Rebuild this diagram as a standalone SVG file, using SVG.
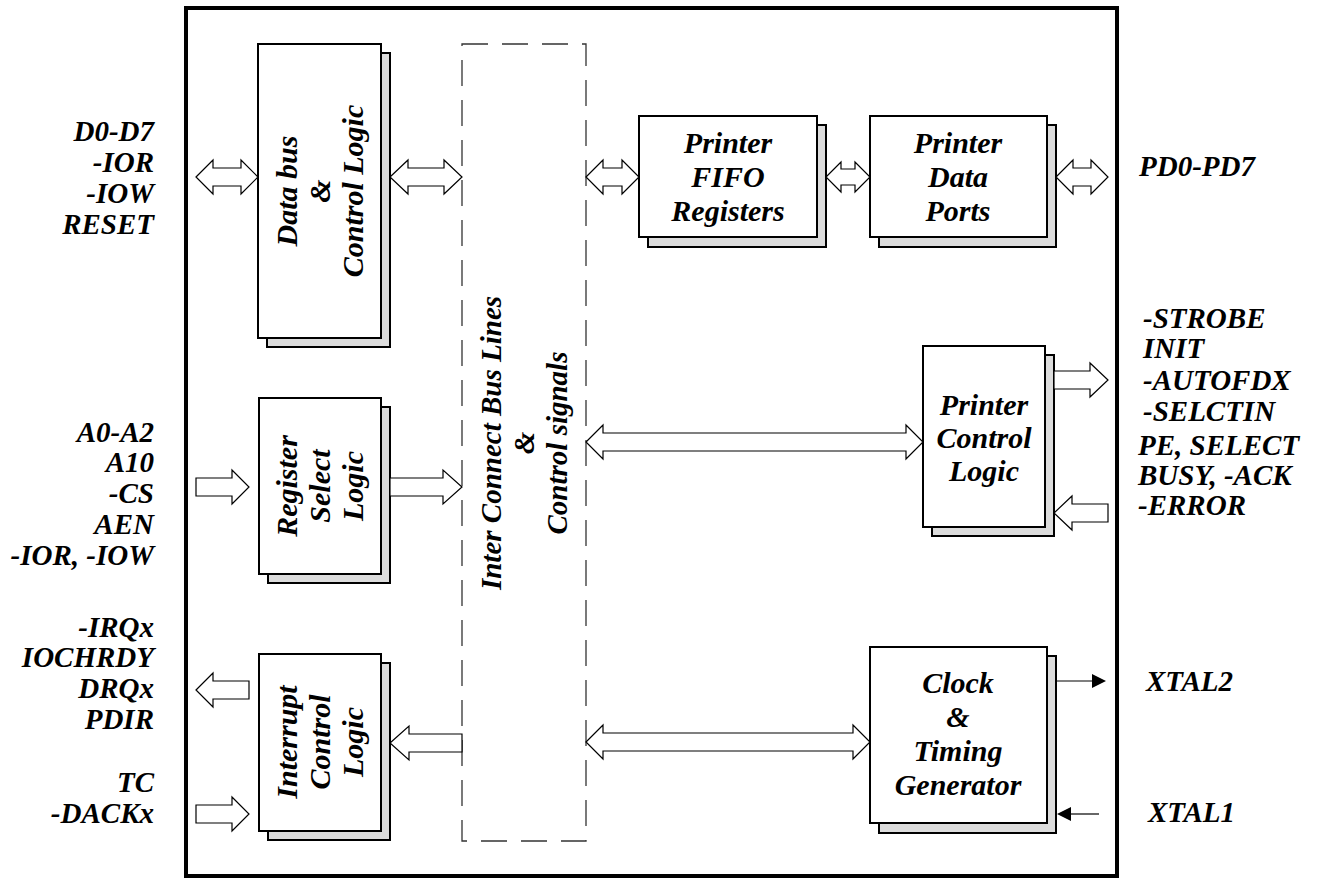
<svg xmlns="http://www.w3.org/2000/svg" width="1322" height="882" viewBox="0 0 1322 882">
<style>
.t{font-family:"Liberation Serif","Times New Roman",serif;font-weight:bold;font-style:italic;font-size:29px;fill:#000}
.b{font-size:30px}
.m{text-anchor:middle}
.r{text-anchor:end}
.box{fill:#fff;stroke:#000;stroke-width:2}
.sh{fill:#dcdcdc;stroke:#000;stroke-width:2}
.ba{fill:#fff;stroke:#000;stroke-width:1.2;stroke-linejoin:miter}
.ln{stroke:#000;stroke-width:1.2;fill:none}
</style>
<rect width="1322" height="882" fill="#fff"/>
<rect id="frame" x="186" y="8" width="931" height="868" fill="none" stroke="#000" stroke-width="4"/>

<g id="bus">
<rect x="462" y="44" width="124" height="797" fill="none" stroke="#333" stroke-width="1.3" stroke-dasharray="26 14"/>
<text class="t m" transform="translate(524,443) rotate(-90)"><tspan x="0" y="-23">Inter Connect Bus Lines</tspan><tspan x="0" y="10">&amp;</tspan><tspan x="0" y="43">Control signals</tspan></text>
</g>

<g id="databus">
<rect class="sh" x="267" y="53" width="123" height="294"/>
<rect class="box" x="258" y="44" width="123" height="294"/>
<text class="t b m" transform="translate(320,191) rotate(-90)"><tspan x="0" y="-23">Data bus</tspan><tspan x="0" y="10">&amp;</tspan><tspan x="0" y="43">Control Logic</tspan></text>
</g>

<g id="regsel">
<rect class="sh" x="268" y="407" width="122" height="176"/>
<rect class="box" x="259" y="398" width="122" height="176"/>
<text class="t b m" transform="translate(320,486) rotate(-90)"><tspan x="0" y="-23">Register</tspan><tspan x="0" y="10">Select</tspan><tspan x="0" y="43">Logic</tspan></text>
</g>

<g id="interrupt">
<rect class="sh" x="268" y="663" width="122" height="177"/>
<rect class="box" x="259" y="654" width="122" height="177"/>
<text class="t b m" transform="translate(320,742) rotate(-90)"><tspan x="0" y="-23">Interrupt</tspan><tspan x="0" y="10">Control</tspan><tspan x="0" y="43">Logic</tspan></text>
</g>

<g id="fifo">
<rect class="sh" x="648" y="125" width="178" height="122"/>
<rect class="box" x="639" y="116" width="178" height="121"/>
<text class="t b m" x="728" y="153">Printer</text>
<text class="t b m" x="728" y="187">FIFO</text>
<text class="t b m" x="728" y="221">Registers</text>
</g>

<g id="dataports">
<rect class="sh" x="879" y="125" width="177" height="122"/>
<rect class="box" x="870" y="116" width="177" height="121"/>
<text class="t b m" x="958" y="153">Printer</text>
<text class="t b m" x="958" y="187">Data</text>
<text class="t b m" x="958" y="221">Ports</text>
</g>

<g id="pcl">
<rect class="sh" x="932" y="355" width="122" height="181"/>
<rect class="box" x="923" y="346" width="122" height="181"/>
<text class="t b m" x="984" y="415">Printer</text>
<text class="t b m" x="984" y="448">Control</text>
<text class="t b m" x="984" y="481">Logic</text>
</g>

<g id="clock">
<rect class="sh" x="879" y="656" width="177" height="177"/>
<rect class="box" x="870" y="647" width="177" height="176"/>
<text class="t b m" x="958" y="693">Clock</text>
<text class="t b m" x="958" y="727">&amp;</text>
<text class="t b m" x="958" y="761">Timing</text>
<text class="t b m" x="958" y="795">Generator</text>
</g>

<g id="connectors">
<path class="ba" d="M196,177 L213,160 L213,168 L241,168 L241,160 L258,177 L241,194 L241,186 L213,186 L213,194 Z"/>
<path class="ba" d="M390,177 L408,160 L408,168 L444,168 L444,160 L462,177 L444,194 L444,186 L408,186 L408,194 Z"/>
<path class="ba" d="M586,177 L603,160 L603,168 L622,168 L622,160 L639,177 L622,194 L622,186 L603,186 L603,194 Z"/>
<path class="ba" d="M826,177 L841,162 L841,169 L855,169 L855,162 L870,177 L855,192 L855,185 L841,185 L841,192 Z"/>
<path class="ba" d="M1056,177 L1073,160 L1073,168 L1091,168 L1091,160 L1108,177 L1091,194 L1091,186 L1073,186 L1073,194 Z"/>
<path class="ba" d="M586,442 L603,425 L603,433 L906,433 L906,425 L923,442 L906,459 L906,451 L603,451 L603,459 Z"/>
<path class="ba" d="M586,742 L603,725 L603,733 L853,733 L853,725 L870,742 L853,759 L853,751 L603,751 L603,759 Z"/>
<path class="ba" d="M196,478 L232,478 L232,470 L249,487 L232,504 L232,496 L196,496 Z"/>
<path class="ba" d="M390,478 L443,478 L443,470 L462,487 L443,504 L443,496 L390,496 Z"/>
<path class="ba" d="M196,805 L232,805 L232,797 L249,814 L232,831 L232,823 L196,823 Z"/>
<path class="ba" d="M1054,371 L1090,371 L1090,363 L1108,380 L1090,397 L1090,389 L1054,389 Z"/>
<path class="ba" d="M196,690 L213,673 L213,681 L249,681 L249,699 L213,699 L213,707 Z"/>
<path class="ba" d="M390,743 L409,726 L409,734 L462,734 L462,752 L409,752 L409,760 Z"/>
<path class="ba" d="M1054,513 L1072,496 L1072,504 L1108,504 L1108,522 L1072,522 L1072,530 Z"/>
<line class="ln" x1="1056" y1="681" x2="1093" y2="681"/>
<polygon points="1092,674 1106,681 1092,688" fill="#000"/>
<line class="ln" x1="1099" y1="814" x2="1070" y2="814"/>
<polygon points="1071,807 1057,814 1071,821" fill="#000"/>
</g>

<g id="labels">
<text class="t r" x="154" y="141">D0-D7</text>
<text class="t r" x="154" y="172">-IOR</text>
<text class="t r" x="154" y="203">-IOW</text>
<text class="t r" x="154" y="234">RESET</text>
<text class="t r" x="154" y="442">A0-A2</text>
<text class="t r" x="154" y="472">A10</text>
<text class="t r" x="154" y="503">-CS</text>
<text class="t r" x="154" y="534">AEN</text>
<text class="t r" x="154" y="565">-IOR, -IOW</text>
<text class="t r" x="154" y="637">-IRQx</text>
<text class="t r" x="154" y="667">IOCHRDY</text>
<text class="t r" x="154" y="698">DRQx</text>
<text class="t r" x="154" y="729">PDIR</text>
<text class="t r" x="154" y="792">TC</text>
<text class="t r" x="154" y="823">-DACKx</text>
<text class="t" x="1139" y="176">PD0-PD7</text>
<text class="t" x="1143" y="328">-STROBE</text>
<text class="t" x="1143" y="358">INIT</text>
<text class="t" x="1143" y="390">-AUTOFDX</text>
<text class="t" x="1143" y="421">-SELCTIN</text>
<text class="t" x="1138" y="455">PE, SELECT</text>
<text class="t" x="1138" y="485">BUSY, -ACK</text>
<text class="t" x="1138" y="515">-ERROR</text>
<text class="t" x="1146" y="691">XTAL2</text>
<text class="t" x="1148" y="822">XTAL1</text>
</g>
</svg>
